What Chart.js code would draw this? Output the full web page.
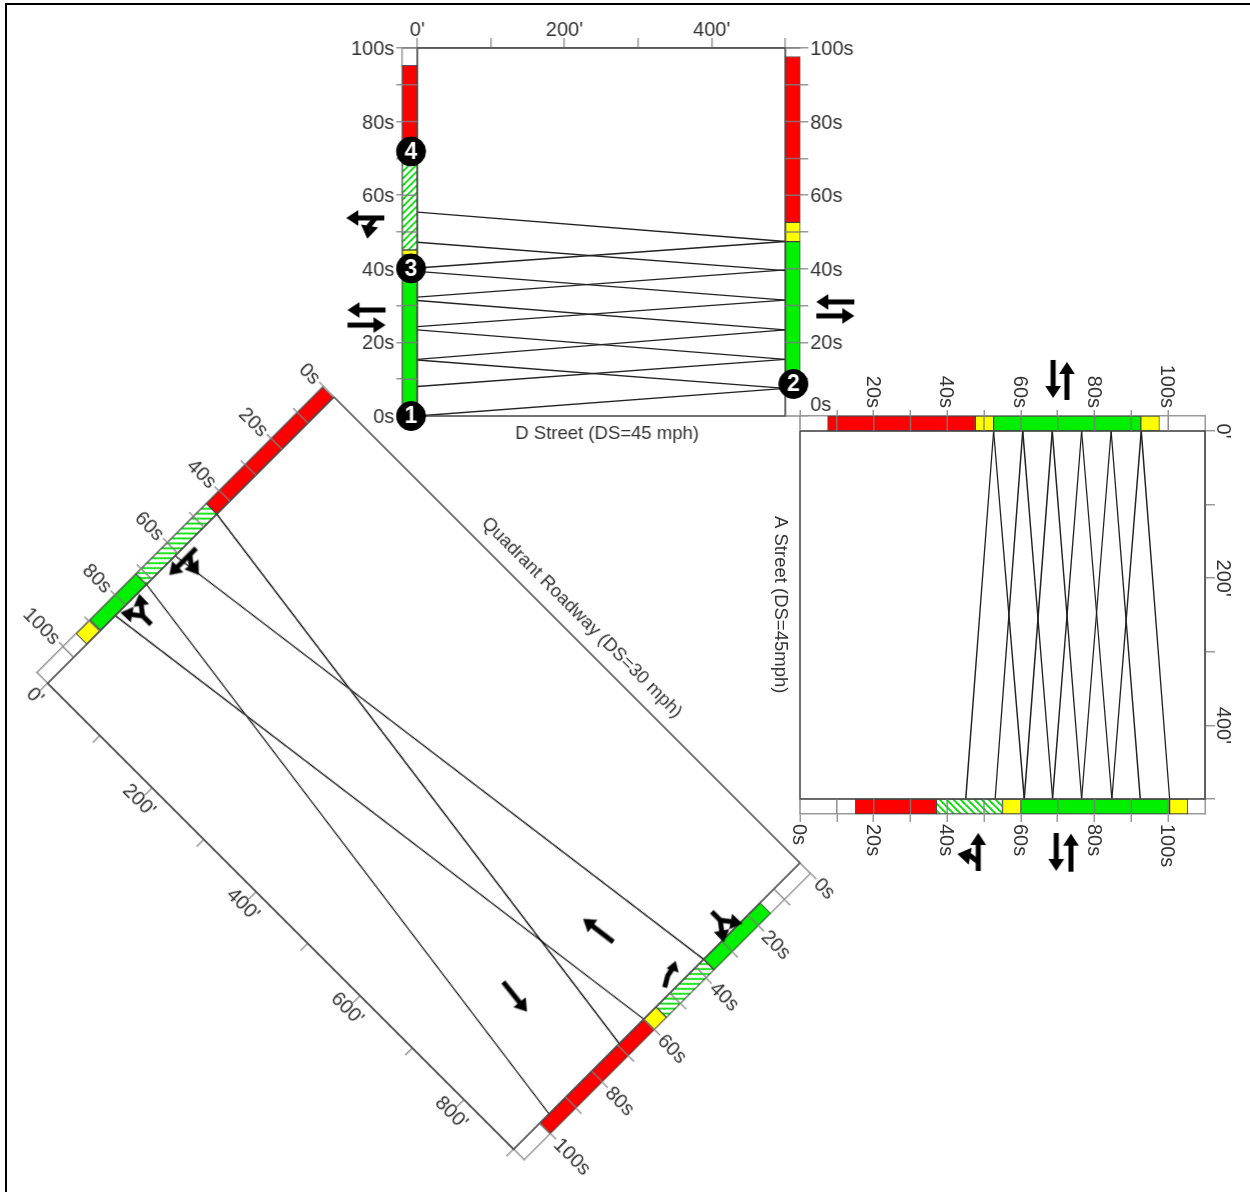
<!DOCTYPE html>
<html>
<head>
<meta charset="utf-8">
<title>Time-space diagrams</title>
<script src="https://cdn.jsdelivr.net/npm/chart.js@4"></script>
<style>
    html, body { margin: 0; height: 100%; overflow: hidden; background: #fff; }
    canvas { position: absolute; left: 0; top: 0; transform-origin: 0 0; filter: blur(0.4px); }
    #frame { position: absolute; left: 5px; top: 3px; width: 1400px; height: 1400px; border: 2px solid #000; }
</style>
</head>
<body>
<div id="frame"></div>
<canvas id="dStreet"></canvas>
<canvas id="aStreet"></canvas>
<canvas id="quadrant"></canvas>
<script>
// ============================================
// Data: shared axis ticks
// ============================================
const timeTicks = [0, 10, 20, 30, 40, 50, 60, 70, 80, 90, 100];
const timeLabels = ["0s", "", "20s", "", "40s", "", "60s", "", "80s", "", "100s"];
const distTicks = [0, 100, 200, 300, 400, 500];
const distLabels = ["0'", "", "200'", "", "400'", ""];
const quadDistTicks = [0, 100, 200, 300, 400, 500, 600, 700, 800, 895];
const quadDistLabels = ["0'", "", "200'", "", "400'", "", "600'", "", "800'", ""];

// ============================================
// Data: D Street (seconds at each end of the block)
// ============================================
const dLength = 500;
const dWestTimes = [0, 43.8, 45.1, 70, 95.3];
const dWestPhases = ["green", "yellow", "hatch", "red"];
const dEastTimes = [8.9, 47.4, 52.6, 97.7];
const dEastPhases = ["green", "yellow", "red"];
const dRiseFrom = [0, 8, 15.4, 24.3, 32.3, 40.2];
const dRiseTo = [7.5, 15.4, 23.4, 31.5, 39.7, 47.4];
const dFallFrom = [15.2, 23.4, 31.4, 39.3, 47.2, 55.4];
const dFallTo = [7.5, 15.4, 23.4, 31.5, 39.5, 47.4];
const dSignalFeet = [-8.5, 500 + 11, -8.5, -8.5];
const dSignalTimes = [0, 8.7, 40.1, 71.9];
const dSignalNames = ["1", "2", "3", "4"];

// ============================================
// Data: A Street
// ============================================
const aLength = 500;
const aNorthTimes = [7.5, 47.6, 52.6, 92.6, 97.6];
const aNorthPhases = ["red", "yellow", "green", "yellow"];
const aSouthTimes = [15, 37, 55, 60, 100.4, 105.3];
const aSouthPhases = ["red", "hatch", "yellow", "green", "yellow"];
const aDownFrom = [52.6, 60.5, 68.5, 76.5, 84.5, 92.7];
const aDownTo = [45, 53, 60.9, 68.6, 76.5, 84.7];
const aUpFrom = [52.6, 60.5, 68.5, 76.5, 84.5, 92.7];
const aUpTo = [60.9, 68.6, 76.5, 84.7, 92.4, 100.4];

// ============================================
// Data: Quadrant Roadway
// ============================================
const qLength = 895;
const qWestTimes = [0, 45, 72, 89.7, 95];
const qWestPhases = ["red", "hatch", "green", "yellow"];
const qEastTimes = [15.2, 37, 55.3, 60, 100];
const qEastPhases = ["green", "hatch", "yellow", "red"];
const qSouthFrom = [45, 72];
const qSouthTo = [69.4, 96.4];
const qNorthFrom = [61, 84];
const qNorthTo = [37, 60];

// ============================================
// Helper: glyphs for the direction arrows
// ============================================
function glyphCanvas(draw) {
    const c = document.createElement("canvas");
    c.width = 48;
    c.height = 48;
    const g = c.getContext("2d");
    g.fillStyle = "#000";
    g.strokeStyle = "#000";
    g.lineWidth = 5;
    g.translate(24, 24);
    draw(g);
    return c;
}

function arrowHead(g, x, y, deg, size) {
    g.save();
    g.translate(x, y);
    g.rotate((deg * Math.PI) / 180);
    g.beginPath();
    g.moveTo(0, -size);
    g.lineTo(size * 0.72, 1);
    g.lineTo(-size * 0.72, 1);
    g.closePath();
    g.fill();
    g.restore();
}

function stroke(g, pts) {
    g.beginPath();
    pts.forEach((p, i) => (i ? g.lineTo(p[0], p[1]) : g.moveTo(p[0], p[1])));
    g.stroke();
}

const glyphs = {
    straight: glyphCanvas((g) => {
        stroke(g, [[0, 19], [0, -8]]);
        arrowHead(g, 0, -8, 0, 11);
    }),
    through: glyphCanvas((g) => {
        stroke(g, [[3, 19], [3, -8]]);
        arrowHead(g, 3, -8, 0, 11);
        stroke(g, [[3, 10], [-6, 3]]);
        arrowHead(g, -6, 4, 280, 12);
    }),
    fork: glyphCanvas((g) => {
        stroke(g, [[0, 16], [0, 4], [-7, -5]]);
        stroke(g, [[0, 4], [7, -5]]);
        arrowHead(g, -7, -5, 325, 11);
        arrowHead(g, 7, -5, 35, 11);
    }),
    hook: glyphCanvas((g) => {
        stroke(g, [[-3, 14], [-2, 2], [1, -5]]);
        arrowHead(g, 2, -5, 8, 9);
    }),
};

// Hatched green used for the permitted phases
function hatchPattern() {
    const c = document.createElement("canvas");
    c.width = 7;
    c.height = 7;
    const g = c.getContext("2d");
    g.fillStyle = "#fff";
    g.fillRect(0, 0, 7, 7);
    g.strokeStyle = "#00e000";
    g.lineWidth = 1.8;
    [[-3.5, 3.5, 3.5, -3.5], [0, 7, 7, 0], [3.5, 10.5, 10.5, 3.5]].forEach((s) => {
        g.beginPath();
        g.moveTo(s[0], s[1]);
        g.lineTo(s[2], s[3]);
        g.stroke();
    });
    return g.createPattern(c, "repeat");
}

const phaseFill = {
    red: "#ff0000",
    yellow: "#ffff00",
    green: "#00f000",
    hatch: hatchPattern(),
};

// ============================================
// Helper: datasets
// ============================================
function phaseBars(feet, times, phases, barPx) {
    return phases.map((phase, i) => ({
        type: "bar",
        grouped: false,
        clip: false,
        barThickness: barPx,
        backgroundColor: phaseFill[phase],
        borderColor: "rgba(30,30,30,0.75)",
        borderWidth: 1,
        borderSkipped: false,
        data: [{ x: feet, y: [times[i], times[i + 1]] }],
    }));
}

function bandLines(fromFeet, toFeet, fromTimes, toTimes) {
    const data = [];
    fromTimes.forEach((t, i) => {
        data.push({ x: fromFeet, y: t }, { x: toFeet, y: toTimes[i] }, { x: NaN, y: NaN });
    });
    return {
        type: "line",
        data,
        borderColor: "#222",
        borderWidth: 1.4,
        pointRadius: 0,
        spanGaps: false,
    };
}

function frameLines(length, maxTime) {
    return {
        type: "line",
        data: [
            { x: 0, y: 0 },
            { x: length, y: 0 },
            { x: length, y: maxTime },
            { x: 0, y: maxTime },
            { x: 0, y: 0 },
        ],
        borderColor: "#444",
        borderWidth: 1.6,
        pointRadius: 0,
        clip: false,
    };
}

// Tick marks that cross the signal bars
function barTicks(length, barFeet) {
    const data = [];
    timeTicks.forEach((t) => {
        data.push({ x: -barFeet, y: t }, { x: 0, y: t }, { x: NaN, y: NaN });
        data.push({ x: length, y: t }, { x: length + barFeet, y: t }, { x: NaN, y: NaN });
    });
    return {
        type: "line",
        data,
        borderColor: "rgba(125,125,125,0.85)",
        borderWidth: 1.5,
        pointRadius: 0,
        spanGaps: false,
        clip: false,
    };
}

// pointRadius does not size a canvas glyph, it only keeps arrows outside the plot area drawn.
// The feet must stay unsorted, or Chart.js drops the points beyond the x range.
function arrowPoints(feet, times, kinds, turns) {
    return {
        type: "scatter",
        data: feet.map((x, i) => ({ x, y: times[i] })),
        pointStyle: kinds.map((k) => glyphs[k]),
        pointRotation: turns,
        pointRadius: 90,
        clip: false,
    };
}

// ============================================
// Plugin: signal numbers and road names
// ============================================
const roadText = {
    id: "roadText",
    afterDatasetsDraw(chart, args, opts) {
        const ctx = chart.ctx;
        ctx.save();
        ctx.textAlign = "center";
        ctx.textBaseline = "middle";
        if (opts.title) {
            const { text, feet, time, shift } = opts.title;
            ctx.font = "18.5px 'Liberation Sans'";
            ctx.fillStyle = "#333";
            ctx.fillText(
                text,
                chart.scales.x.getPixelForValue(feet),
                chart.scales.y.getPixelForValue(time) + shift,
            );
        }
        chart.data.datasets.forEach((ds, i) => {
            if (!ds.names) return;
            ctx.font = "bold 23px 'Liberation Sans'";
            ctx.fillStyle = "#fff";
            chart.getDatasetMeta(i).data.forEach((pt, k) => {
                ctx.fillText(ds.names[k], pt.x, pt.y + 1);
            });
        });
        ctx.restore();
    },
};

// ============================================
// Chart builder: same layout, placed and turned by CSS
// ============================================
const tickFont = { family: "'Liberation Sans', sans-serif", size: 20 };

function axisLook(tickLength, border) {
    return {
        grid: {
            drawOnChartArea: false,
            drawTicks: true,
            tickLength,
            color: "#999",
            lineWidth: 1.5,
            offset: false,
        },
        border: { display: border, color: "#999", width: 1.5 },
        offset: false,
    };
}

function distAxis(position, minFt, maxFt, ticks, labels, show) {
    return {
        type: "linear",
        position,
        min: minFt,
        max: maxFt,
        ...axisLook(show ? 10 : 0, show),
        afterBuildTicks: (s) => {
            s.ticks = show ? ticks.map((value) => ({ value })) : [];
        },
        afterFit: (s) => {
            s.height = 40;
        },
        ticks: {
            autoSkip: false,
            maxRotation: 0,
            padding: -4,
            font: tickFont,
            color: "#333",
            callback: (v, i) => labels[i],
        },
    };
}

function timeAxis(position, maxTime, reverse, labels, border) {
    return {
        type: "linear",
        position,
        min: 0,
        max: maxTime,
        reverse,
        ...axisLook(position === "left" ? 6 : 8, border),
        afterBuildTicks: (s) => {
            s.ticks = timeTicks.map((value) => ({ value }));
        },
        afterFit: (s) => {
            s.width = 60;
        },
        ticks: {
            autoSkip: false,
            padding: 2,
            labelOffset: 1.5,
            font: tickFont,
            color: "#333",
            callback: (v, i) => labels[i],
        },
    };
}

function buildChart(id, cfg) {
    const canvas = document.getElementById(id);
    canvas.width = cfg.plotWidth + 120;
    canvas.height = cfg.plotHeight + 80;
    const chart = new Chart(canvas, {
        type: "scatter",
        data: { datasets: cfg.datasets },
        plugins: [roadText],
        options: {
            responsive: false,
            animation: false,
            events: [],
            layout: { padding: 0, autoPadding: false },
            plugins: {
                legend: { display: false },
                tooltip: { enabled: false },
                roadText: { title: cfg.title },
            },
            scales: {
                x: distAxis("bottom", cfg.minFeet, cfg.maxFeet, cfg.bottomTicks || [], cfg.bottomLabels || [], !!cfg.bottomTicks),
                xTop: distAxis("top", cfg.minFeet, cfg.maxFeet, cfg.topTicks || [], cfg.topLabels || [], !!cfg.topTicks),
                y: timeAxis("left", cfg.maxTime, cfg.reverse, cfg.leftLabels, true),
                yRight: timeAxis("right", cfg.maxTime, cfg.reverse, cfg.rightLabels, cfg.rightBorder),
            },
        },
    });
    // Put data point (0 ft, 0 s) on its spot in the page, turned by cfg.turn degrees
    const rad = (cfg.turn * Math.PI) / 180;
    const cx = chart.scales.x.getPixelForValue(0);
    const cy = chart.scales.y.getPixelForValue(0);
    const tx = cfg.originX - (cx * Math.cos(rad) - cy * Math.sin(rad));
    const ty = cfg.originY - (cx * Math.sin(rad) + cy * Math.cos(rad));
    canvas.style.transform = "translate(" + tx + "px," + ty + "px) rotate(" + cfg.turn + "deg)";
    return chart;
}

const BAR_FEET = 20.4;
const BAR_PX = 15;

// ============================================
// D Street
// ============================================
buildChart("dStreet", {
    plotWidth: 398,
    plotHeight: 368,
    minFeet: -BAR_FEET,
    maxFeet: dLength + BAR_FEET,
    maxTime: 100,
    reverse: false,
    turn: 0,
    originX: 417.3,
    originY: 416,
    rightBorder: false,
    topTicks: distTicks,
    topLabels: distLabels,
    leftLabels: timeLabels,
    rightLabels: timeLabels.map((t, i) => (i === 0 ? [t, ""] : t)),
    title: { text: "D Street (DS=45 mph)", feet: 258, time: 0, shift: 18 },
    datasets: [
        {
            type: "scatter",
            data: dSignalFeet.map((x, i) => ({ x, y: dSignalTimes[i] })),
            names: dSignalNames,
            pointRadius: 14.5,
            pointBackgroundColor: "#000",
            pointBorderColor: "#000",
            clip: false,
        },
        arrowPoints(
            [568, -70.7, -69, -69, 568],
            [31, 53, 28.8, 24.7, 27.2],
            ["straight", "through", "straight", "straight", "straight"],
            [270, 270, 270, 90, 90],
        ),
        barTicks(dLength, BAR_FEET),
        frameLines(dLength, 100),
        bandLines(0, dLength, dRiseFrom, dRiseTo),
        bandLines(0, dLength, dFallFrom, dFallTo),
        ...phaseBars(-BAR_FEET / 2, dWestTimes, dWestPhases, BAR_PX),
        ...phaseBars(dLength + BAR_FEET / 2, dEastTimes, dEastPhases, BAR_PX),
    ],
});

// ============================================
// A Street
// ============================================
buildChart("aStreet", {
    plotWidth: 398,
    plotHeight: 405,
    minFeet: -BAR_FEET,
    maxFeet: aLength + BAR_FEET,
    maxTime: 110,
    reverse: false,
    turn: 90,
    originX: 800,
    originY: 431,
    rightBorder: true,
    topTicks: distTicks,
    topLabels: distLabels,
    leftLabels: timeLabels.map((t, i) => (i === 0 ? "" : t)),
    rightLabels: timeLabels,
    title: { text: "A Street (DS=45mph)", feet: 236, time: 0, shift: 20 },
    datasets: [
        arrowPoints(
            [-70.7, -68, 572, 573, 572],
            [68.75, 72.5, 69.6, 73.6, 47.6],
            ["straight", "straight", "straight", "straight", "through"],
            [90, 270, 90, 270, 270],
        ),
        barTicks(aLength, BAR_FEET),
        frameLines(aLength, 110),
        bandLines(0, aLength, aDownFrom, aDownTo),
        bandLines(0, aLength, aUpFrom, aUpTo),
        ...phaseBars(-BAR_FEET / 2, aNorthTimes, aNorthPhases, BAR_PX),
        ...phaseBars(aLength + BAR_FEET / 2, aSouthTimes, aSouthPhases, BAR_PX),
    ],
});

// ============================================
// Quadrant Roadway
// ============================================
buildChart("quadrant", {
    plotWidth: 689,
    plotHeight: 405,
    minFeet: -BAR_FEET,
    maxFeet: qLength + BAR_FEET,
    maxTime: 110,
    reverse: true,
    turn: 45,
    originX: 334,
    originY: 397,
    rightBorder: true,
    bottomTicks: quadDistTicks,
    bottomLabels: quadDistLabels,
    leftLabels: timeLabels,
    rightLabels: timeLabels,
    title: { text: "Quadrant Roadway (DS=30 mph)", feet: 450, time: 0, shift: -19 },
    datasets: [
        arrowPoints(
            [17, 21, 879, 877, 766, 750],
            [60.7, 78.8, 26.3, 46.3, 51.7, 80.4],
            ["through", "fork", "fork", "hook", "straight", "straight"],
            [180, 270, 90, 325, 262.5, 96.3],
        ),
        barTicks(qLength, BAR_FEET),
        frameLines(qLength, 110),
        bandLines(0, qLength, qSouthFrom, qSouthTo),
        bandLines(0, qLength, qNorthFrom, qNorthTo),
        ...phaseBars(-BAR_FEET / 2, qWestTimes, qWestPhases, BAR_PX),
        ...phaseBars(qLength + BAR_FEET / 2, qEastTimes, qEastPhases, BAR_PX),
    ],
});
</script>
</body>
</html>
